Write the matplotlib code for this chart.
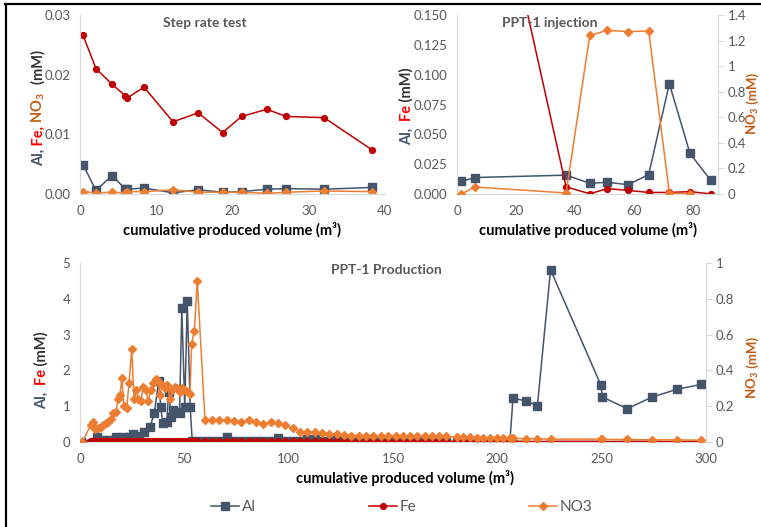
import matplotlib
matplotlib.use("Agg")
import matplotlib.pyplot as plt
from matplotlib.lines import Line2D
import matplotlib.ticker as mt

# ---------------- data ----------------
# Step rate test (all on one axis, mM)
step_x = [0.4, 2.1, 4.2, 5.9, 6.2, 8.4, 12.2, 15.5, 18.7, 21.2, 24.5, 27.0, 32.0, 38.3]
step_al = [0.0049, 0.0006, 0.0031, 0.0009, 0.0008, 0.0010, 0.0002, 0.0007, 0.0003, 0.0004, 0.0008, 0.0009, 0.0008, 0.0011]
step_fe = [0.0266, 0.0210, 0.0184, 0.0165, 0.0161, 0.0179, 0.0121, 0.0136, 0.0103, 0.0130, 0.0142, 0.0130, 0.0128, 0.0074]
step_no3 = [0.0004, 0.0002, 0.0003, 0.0002, 0.0004, 0.0004, 0.0007, 0.0003, 0.0003, 0.0003, 0.0001, 0.0003, 0.0005, 0.0004]

# PPT-1 injection
inj_x = [1.5, 6.0, 37.0, 45.0, 51.0, 58.0, 65.0, 72.0, 79.0, 86.0]
inj_al = [0.0105, 0.0138, 0.0158, 0.0090, 0.0098, 0.0078, 0.0163, 0.0925, 0.0340, 0.0115]
inj_fe = [0.30, 0.35, 0.0060, 0.0002, 0.0045, 0.0030, 0.0013, 0.0013, 0.0020, 0.0001]
inj_no3_x = [1.5, 6.0, 37.0, 45.0, 51.0, 58.0, 65.0, 72.0, 79.0]
inj_no3 = [0.0, 0.055, 0.008, 1.24, 1.28, 1.27, 1.275, 0.008, 0.0]

# PPT-1 production
prod_x = [1.1, 5.1, 6.4, 7.2, 8.8, 10.1, 11.2, 12.3, 13.6, 14.7, 16.0, 17.1, 18.4, 19.2, 20.0,
          21.1, 22.4, 23.5, 24.8, 25.9, 27.0, 27.9, 29.2, 30.3, 31.5, 32.7, 34.0, 35.1, 36.3,
          37.5, 38.3, 39.4, 40.7, 41.8, 43.1, 44.2, 45.5, 46.6, 47.9, 49.0, 50.3, 51.6, 52.7,
          53.5, 54.8, 56.2,
          59.9, 63.4, 66.7, 70.3, 73.8, 77.3, 80.8, 84.3, 87.8, 91.4, 94.7, 98.4,
          101.9, 105.4, 108.9, 112.5, 116.0, 119.5, 123.0, 126.5, 130.0, 133.5, 137.0, 140.5,
          144.1, 147.7, 151.3, 154.6, 158.1, 161.6, 165.2, 168.7, 172.2, 175.4,
          180.5, 183.7, 186.9, 190.1, 193.3, 196.5, 199.7, 202.8, 206.0,
          207.5, 213.7, 219.2, 225.5, 249.7, 250.3, 262.2, 274.0, 285.9, 297.7]
prod_no3 = [0.0, 0.093, 0.11, 0.071, 0.08, 0.085, 0.095, 0.108, 0.113, 0.13, 0.16, 0.17, 0.24, 0.26, 0.36,
            0.20, 0.19, 0.33, 0.52, 0.24, 0.29, 0.24, 0.23, 0.31, 0.29, 0.23, 0.29, 0.33, 0.35,
            0.34, 0.26, 0.32, 0.30, 0.32, 0.24, 0.29, 0.31, 0.30, 0.28, 0.30, 0.29, 0.28, 0.27,
            0.55, 0.62, 0.90,
            0.123, 0.123, 0.123, 0.123, 0.119, 0.112, 0.123, 0.112, 0.102, 0.112, 0.104, 0.095,
            0.078, 0.056, 0.056, 0.058, 0.050, 0.046, 0.042, 0.038, 0.036, 0.036, 0.036, 0.034,
            0.032, 0.034, 0.032, 0.032, 0.032, 0.032, 0.032, 0.032, 0.032, 0.032,
            0.026, 0.026, 0.026, 0.025, 0.025, 0.024, 0.024, 0.023, 0.022,
            0.020, 0.019, 0.018, 0.016, 0.016, 0.014, 0.014, 0.012, 0.012, 0.010]
prod_fe = [0.00, 0.02, 0.03, 0.02, 0.02, 0.03, 0.02, 0.02, 0.03, 0.02, 0.02, 0.03, 0.02, 0.02, 0.03,
           0.02, 0.02, 0.03, 0.02, 0.02, 0.03, 0.02, 0.02, 0.03, 0.02, 0.02, 0.03, 0.02, 0.02,
           0.03, 0.02, 0.02, 0.03, 0.02, 0.02, 0.03, 0.02, 0.02, 0.03, 0.02, 0.02, 0.03, 0.02,
           0.03, 0.02, 0.02,
           0.02, 0.02, 0.03, 0.02, 0.02, 0.02, 0.03, 0.02, 0.02, 0.02, 0.03, 0.02,
           0.02, 0.02, 0.03, 0.02, 0.02, 0.02, 0.03, 0.02, 0.02, 0.02, 0.03, 0.02,
           0.02, 0.02, 0.03, 0.02, 0.02, 0.02, 0.03, 0.02, 0.02, 0.02,
           0.02, 0.02, 0.01, 0.02, 0.02, 0.01, 0.02, 0.02, 0.01,
           0.02, 0.02, 0.01, 0.02, 0.02, 0.01, 0.02, 0.02, 0.01, 0.02]
prod_al_x = [0.6, 8.3, 10.8, 14.0, 17.2, 20.7, 23.6, 25.5, 28.4, 30.8, 33.5, 35.6, 37.7, 38.7,
             39.6, 41.6, 42.5, 43.7, 44.8, 46.1, 47.7, 48.8, 50.2, 51.4, 52.8, 53.8, 56.2,
             59.9, 63.4, 66.7, 70.3, 73.8, 77.3, 80.8, 84.3, 87.8, 91.4, 94.7, 98.4,
             101.9, 105.4, 108.9, 112.5, 116.0, 119.5, 123.0, 126.5, 130.0, 133.5, 137.0, 140.5,
             144.1, 147.7, 151.3, 154.6, 158.1, 161.6, 165.2, 168.7, 172.2, 175.4,
             180.5, 183.7, 186.9, 190.1, 193.3, 196.5, 199.7, 202.8, 206.0,
             207.5, 213.7, 219.2, 225.5, 249.7, 250.3, 262.2, 274.0, 285.9, 297.7]
prod_al = [0.0, 0.13, 0.06, 0.05, 0.13, 0.14, 0.15, 0.23, 0.17, 0.29, 0.41, 0.80, 1.69, 0.99,
           0.54, 0.57, 1.41, 0.71, 0.90, 0.85, 0.82, 3.74, 0.99, 3.93, 0.99, 0.02, 0.02,
           0.02, 0.02, 0.02, 0.14, 0.02, 0.02, 0.02, 0.02, 0.02, 0.02, 0.12, 0.02,
           0.02, 0.02, 0.09, 0.09, 0.02, 0.02, 0.12, 0.02, 0.03, 0.02, 0.02, 0.02,
           0.05, 0.03, 0.02, 0.02, 0.02, 0.03, 0.02, 0.02, 0.05, 0.00,
           0.00, 0.01, 0.01, 0.00, 0.01, 0.01, 0.00, 0.00, 0.00,
           1.22, 1.15, 1.01, 4.81, 1.58, 1.26, 0.93, 1.25, 1.47, 1.61]

series_names = ["Al", "Fe", "NO3"]

# ---------------- style ----------------
plt.rcParams["font.family"] = ["Lato", "DejaVu Sans"]
plt.rcParams["mathtext.fontset"] = "custom"
plt.rcParams["mathtext.rm"] = "Lato"
plt.rcParams["mathtext.bf"] = "Lato:bold"
plt.rcParams["mathtext.it"] = "Lato:italic"

C_AL = "#44546A"
C_FE = "#C00000"
C_NO3 = "#ED7D31"
C_FE_TXT = "#FF0000"
C_NO3_TXT = "#C55A11"
GRID = "#D9D9D9"
TICK = "#595959"

W, H = 761, 527
fig = plt.figure(figsize=(W / 100, H / 100), dpi=100)


def ax_px(l, t, r, b):
    return fig.add_axes([l / W, 1 - b / H, (r - l) / W, (b - t) / H])


def style(ax):
    for s in ["top", "right"]:
        ax.spines[s].set_visible(False)
    ax.spines["left"].set_color(GRID)
    ax.spines["bottom"].set_color(GRID)
    ax.tick_params(axis="both", length=0, labelsize=9.5, labelcolor=TICK)
    ax.tick_params(axis="y", pad=7)
    ax.tick_params(axis="x", pad=8)


def style_twin(tw):
    for s in ["top", "left", "bottom"]:
        tw.spines[s].set_visible(False)
    tw.spines["right"].set_color(GRID)
    tw.tick_params(axis="y", length=4, color=GRID, direction="out", labelsize=9.5,
                   labelcolor=TICK, pad=3)


def fmt_g(v, pos):
    return ("%.1f" % v).rstrip("0").rstrip(".")


kw_al = dict(color=C_AL, marker="s", markersize=6, lw=1.1)
kw_fe = dict(color=C_FE, marker="o", markersize=4.2, lw=1.1)
kw_no3 = dict(color=C_NO3, marker="D", markersize=4.2, lw=1.1)

# --- Step rate test ---
ax1 = ax_px(80, 15, 385, 194)
ax1.plot(step_x, step_al, **kw_al)
ax1.plot(step_x, step_fe, **kw_fe)
ax1.plot(step_x, step_no3, **kw_no3)
ax1.set_xlim(0, 40)
ax1.set_ylim(0, 0.03)
ax1.set_xticks([0, 10, 20, 30, 40])
ax1.set_yticks([0, 0.01, 0.02, 0.03])
ax1.yaxis.set_major_formatter(mt.FormatStrFormatter("%.2f"))
style(ax1)
ax1.text(0.41, 0.955, "Step rate test", transform=ax1.transAxes, ha="center", va="center",
         fontsize=10, fontweight="bold", color=TICK)

# --- PPT-1 injection ---
ax2 = ax_px(457, 15, 718, 194)
ax2.plot(inj_x, inj_al, **kw_al)
ax2.plot(inj_x, inj_fe, **kw_fe)
ax2.set_xlim(0, 88.5)
ax2.set_ylim(0, 0.15)
ax2.set_xticks([0, 20, 40, 60, 80])
ax2.set_yticks([0, 0.025, 0.05, 0.075, 0.1, 0.125, 0.15])
ax2.yaxis.set_major_formatter(mt.FormatStrFormatter("%.3f"))
style(ax2)
tw2 = ax2.twinx()
tw2.plot(inj_no3_x, inj_no3, **kw_no3)
tw2.set_ylim(0, 1.4)
tw2.set_yticks([0, 0.2, 0.4, 0.6, 0.8, 1.0, 1.2, 1.4])
tw2.yaxis.set_major_formatter(mt.FuncFormatter(fmt_g))
style_twin(tw2)
tw2.text(0.356, 0.955, "PPT-1 injection", transform=ax2.transAxes, ha="center", va="center",
         fontsize=10, fontweight="bold", color=TICK)

# --- PPT-1 production ---
ax3 = ax_px(80, 263, 706, 442)
ax3.plot(prod_al_x, prod_al, **kw_al)
ax3.plot(prod_x, prod_fe, **kw_fe)
ax3.set_xlim(0, 300)
ax3.set_ylim(0, 5)
ax3.set_xticks([0, 50, 100, 150, 200, 250, 300])
ax3.set_yticks([0, 1, 2, 3, 4, 5])
style(ax3)
tw3 = ax3.twinx()
tw3.plot(prod_x, prod_no3, **kw_no3)
tw3.set_ylim(0, 1)
tw3.set_yticks([0, 0.2, 0.4, 0.6, 0.8, 1.0])
tw3.yaxis.set_major_formatter(mt.FuncFormatter(fmt_g))
style_twin(tw3)
tw3.text(0.49, 0.96, "PPT-1 Production", transform=ax3.transAxes, ha="center", va="center",
         fontsize=10, fontweight="bold", color=TICK)

# x labels
xl = "cumulative produced volume (m³)"
for xc, yc in [(232, 230), (588, 230), (405, 478)]:
    fig.text(xc / W, 1 - yc / H, xl, ha="center", va="center", fontsize=10.5,
             fontweight="bold", color="black")

# rotated multi-coloured y labels
renderer = fig.canvas.get_renderer()


def vlabel(x_px, yc_px, parts, size=10.5):
    objs = []
    total = 0
    for s, c in parts:
        t = fig.text(0, 0, s, rotation=90, rotation_mode="anchor", ha="left", va="baseline",
                     color=c, fontsize=size, fontweight="bold")
        h = t.get_window_extent(renderer).height
        objs.append((t, h))
        total += h
    y = (H - yc_px) - total / 2
    for t, h in objs:
        t.set_position((x_px / W, y / H))
        y += h


DARK = "#333333"
vlabel(43, 108, [("Al,", C_AL), (" Fe,", C_FE_TXT), (r" NO$_\mathbf{3}$", C_NO3_TXT), ("  (mM)", DARK)])
vlabel(411, 106, [("Al,", C_AL), ("  Fe", C_FE_TXT), (" (mM)", DARK)])
vlabel(757, 104, [(r"NO$_\mathbf{3}$", C_NO3_TXT), (" (mM)", C_NO3_TXT)], size=9.5)
vlabel(757, 368, [(r"NO$_\mathbf{3}$", C_NO3_TXT), (" (mM)", C_NO3_TXT)], size=9.5)
vlabel(46, 370, [("Al,", C_AL), ("  Fe", C_FE_TXT), (" (mM)", DARK)])

# legend
handles = [Line2D([], [], **kw_al), Line2D([], [], **kw_fe), Line2D([], [], **kw_no3)]
fig.legend(handles, series_names, loc="center", bbox_to_anchor=(402 / W, 1 - 507 / H), ncol=3,
           frameon=False, fontsize=11, labelcolor=TICK, columnspacing=7.4, handlelength=1.8,
           handletextpad=0.2)

# border of the captured figure
fig.add_artist(Line2D([5 / W, 1], [1 - 4 / H, 1 - 4 / H], color="black", lw=1.6,
                      transform=fig.transFigure))
fig.add_artist(Line2D([6 / W, 6 / W], [0, 1 - 4 / H], color="black", lw=1.6,
                      transform=fig.transFigure))

fig.savefig("out.png", dpi=100)
